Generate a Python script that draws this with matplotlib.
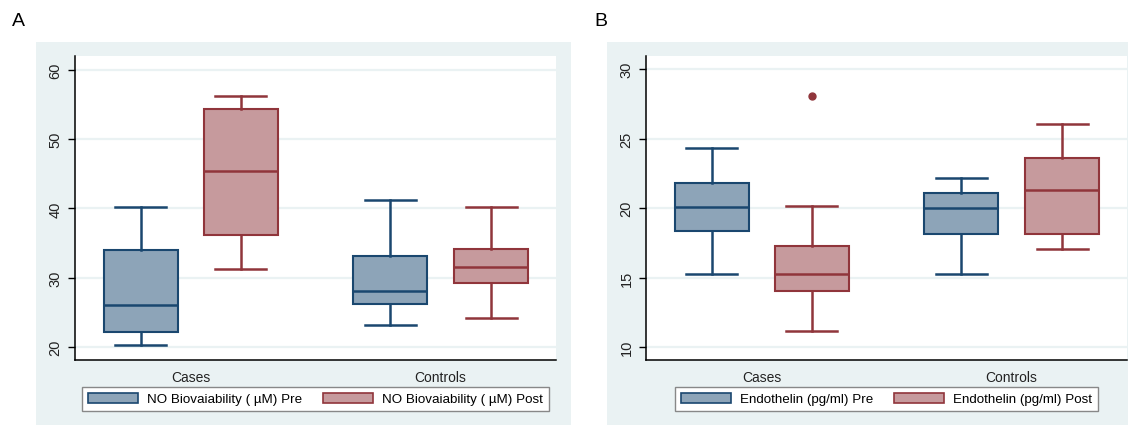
import numpy as np
import matplotlib.pyplot as plt
from matplotlib.patches import Rectangle, Patch

plt.rcParams['font.family'] = ['Liberation Sans', 'DejaVu Sans']

groups = ['Cases', 'Controls']

# panel A: NO biovailability, (whislo, q1, med, q3, whishi)
no_pre = [(20.2, 22.1, 26.1, 34.0, 40.2), (23.2, 26.2, 28.1, 33.1, 41.2)]
no_post = [(31.2, 36.2, 45.4, 54.3, 56.2), (24.2, 29.2, 31.5, 34.1, 40.2)]
no_pre_fliers = [[], []]
no_post_fliers = [[], []]

# panel B: endothelin
et_pre = [(15.25, 18.35, 20.07, 21.8, 24.34), (15.25, 18.13, 20.0, 21.1, 22.2)]
et_post = [(11.15, 14.03, 15.25, 17.27, 20.17), (17.05, 18.13, 21.3, 23.6, 26.04)]
et_pre_fliers = [[], []]
et_post_fliers = [[28.1], []]

W, H = 1128, 427
fig = plt.figure(figsize=(W / 100, H / 100), dpi=100)

bg = '#EAF2F3'
pre_fill, pre_edge = '#8DA4B8', '#1A476F'
post_fill, post_edge = '#C69A9D', '#90353B'


def px(x0, y0, x1, y1):
    return [x0 / W, 1 - y1 / H, (x1 - x0) / W, (y1 - y0) / H]


def stats(vals, fl):
    lo, q1, med, q3, hi = vals
    return dict(whislo=lo, q1=q1, med=med, q3=q3, whishi=hi, fliers=fl)


def panel(ax, pre, post, pre_fl, post_fl, yticks, ylim, labels, leg_box):
    pos_pre = [0.137, 0.655]
    pos_post = [0.345, 0.865]
    for data, fl, pos, fc, ec in [(pre, pre_fl, pos_pre, pre_fill, pre_edge),
                                  (post, post_fl, pos_post, post_fill, post_edge)]:
        ax.bxp([stats(v, f) for v, f in zip(data, fl)], positions=pos,
               widths=0.154, patch_artist=True, showfliers=True,
               boxprops=dict(facecolor=fc, edgecolor=ec, linewidth=1.5),
               medianprops=dict(color=ec, linewidth=1.8),
               whiskerprops=dict(color=ec, linewidth=1.8),
               capprops=dict(color=ec, linewidth=1.8),
               capwidths=0.106,
               flierprops=dict(marker='o', markerfacecolor=ec, markeredgecolor=ec,
                               markersize=5))
    ax.set_xlim(0, 1)
    ax.set_ylim(*ylim)
    ax.set_yticks(yticks)
    ax.set_yticklabels([str(t) for t in yticks], rotation=90, va='center',
                       fontsize=10.5, color='#222222')
    ax.set_xticks([0.241, 0.759])
    ax.set_xticklabels(groups, fontsize=10, color='#222222')
    ax.tick_params(axis='x', length=0, pad=7)
    ax.tick_params(axis='y', length=5, width=1, pad=4)
    ax.grid(axis='y', color=bg, linewidth=1.6)
    ax.set_axisbelow(True)
    for s in ['top', 'right']:
        ax.spines[s].set_visible(False)
    for s in ['left', 'bottom']:
        ax.spines[s].set_linewidth(1.1)
    handles = [Patch(facecolor=pre_fill, edgecolor=pre_edge, linewidth=1.2),
               Patch(facecolor=post_fill, edgecolor=post_edge, linewidth=1.2)]
    leg = fig.legend(handles, labels, ncol=2, loc='center',
                     bbox_to_anchor=leg_box, fontsize=9.6,
                     fancybox=False, edgecolor='#888888', framealpha=1,
                     handlelength=3.75, handleheight=0.83, columnspacing=1.6,
                     borderpad=0.45, handletextpad=0.68, borderaxespad=0)
    leg.get_frame().set_linewidth(1.0)


# panel backgrounds
fig.patches.append(Rectangle((36 / W, 1 - 426 / H), (571 - 36) / W, (426 - 43) / H,
                             transform=fig.transFigure, facecolor=bg, edgecolor='none', zorder=-10))
fig.patches.append(Rectangle((607 / W, 1 - 426 / H), (1128 - 607) / W, (426 - 43) / H,
                             transform=fig.transFigure, facecolor=bg, edgecolor='none', zorder=-10))

axA = fig.add_axes(px(75, 57, 556, 361))
panel(axA, no_pre, no_post, no_pre_fliers, no_post_fliers,
      [20, 30, 40, 50, 60], (18.1, 62.0),
      ['NO Biovaiability ( µM) Pre', 'NO Biovaiability ( µM) Post'],
      (315.5 / W, 1 - 400 / H))

axB = fig.add_axes(px(646, 57, 1127, 361))
panel(axB, et_pre, et_post, et_pre_fliers, et_post_fliers,
      [10, 15, 20, 25, 30], (9.06, 30.95),
      ['Endothelin (pg/ml) Pre', 'Endothelin (pg/ml) Post'],
      (886.5 / W, 1 - 400 / H))

fig.text(12 / W, 1 - 22 / H, 'A', fontsize=14, va='center', ha='left')
fig.text(594 / W, 1 - 22 / H, 'B', fontsize=14, va='center', ha='left')

fig.savefig('out.png', dpi=100)
